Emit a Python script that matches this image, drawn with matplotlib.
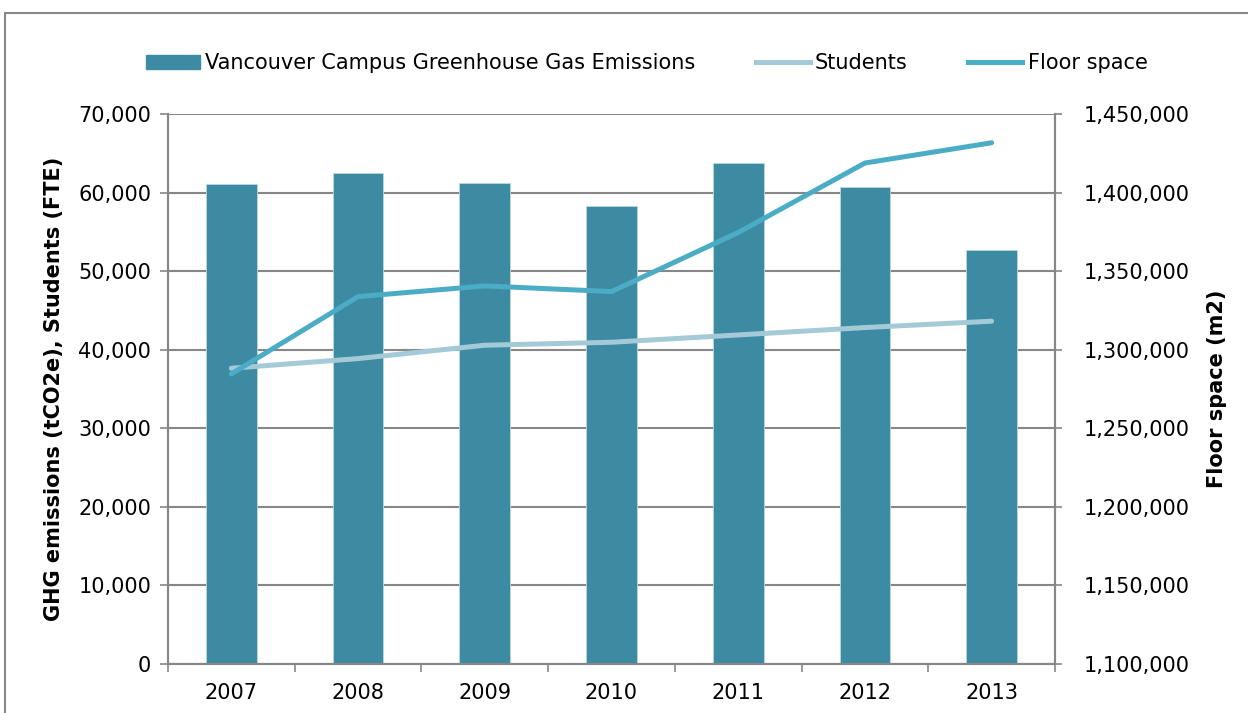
import matplotlib.pyplot as plt
from matplotlib.patches import Rectangle, Patch
from matplotlib.lines import Line2D
from matplotlib.ticker import FuncFormatter, MultipleLocator
import numpy as np

years = ['2007', '2008', '2009', '2010', '2011', '2012', '2013']
ghg = [61030, 62430, 61160, 58320, 63800, 60650, 52750]
students = [37640, 38870, 40570, 40950, 41880, 42820, 43630]
floor_space = [1284600, 1333800, 1340600, 1337000, 1374600, 1418800, 1431700]

bar_col = '#3D8BA3'
stud_col = '#A5CAD7'
floor_col = '#4BACC6'
grid_col = '#878787'

plt.rcParams['font.family'] = ['DejaVu Sans']
fig = plt.figure(figsize=(12.48, 7.13), dpi=100)
ax = fig.add_axes([168 / 1248, 1 - 664 / 713, 887 / 1248, 550 / 713])
ax2 = ax.twinx()

x = np.arange(len(years))
ax.bar(x, ghg, width=0.4, color=bar_col, edgecolor='#B9D9E3', linewidth=0.6, zorder=2)
ax.plot(x, students, color=stud_col, lw=3.6, solid_capstyle='round', zorder=3)
ax2.plot(x, floor_space, color=floor_col, lw=3.6, solid_capstyle='round', zorder=4)

ax.set_xlim(-0.5, len(years) - 0.5)
ax.set_ylim(0, 70000)
ax2.set_ylim(1100000, 1450000)
ax.yaxis.set_major_locator(MultipleLocator(10000))
ax2.yaxis.set_major_locator(MultipleLocator(50000))
fmt = FuncFormatter(lambda v, p: f'{int(v):,}')
ax.yaxis.set_major_formatter(fmt)
ax2.yaxis.set_major_formatter(fmt)

ax.set_xticks(x)
ax.set_xticklabels(years)
ax.set_xticks(np.arange(len(years) + 1) - 0.5, minor=True)
ax.tick_params(axis='x', which='major', length=0, pad=14, labelsize=15)
ax.tick_params(axis='x', which='minor', length=6, color=grid_col, width=1.2)
ax.tick_params(axis='y', length=6, color=grid_col, width=1.2, labelsize=15, pad=6)
ax2.tick_params(axis='y', length=5, color=grid_col, width=1.2, labelsize=15, pad=16)

ax.grid(axis='y', color=grid_col, lw=1.5, zorder=0)
ax.set_axisbelow(True)
for a in (ax, ax2):
    a.spines['top'].set_visible(False)
    for s in ('left', 'right', 'bottom'):
        a.spines[s].set_color(grid_col)
        a.spines[s].set_linewidth(1.5)

ax.set_ylabel('GHG emissions (tCO2e), Students (FTE)', fontsize=15, fontweight='bold', labelpad=10)
ax2.set_ylabel('Floor space (m2)', fontsize=15, fontweight='bold', labelpad=12)

handles = [Patch(color=bar_col), Line2D([], [], color=stud_col, lw=3.6), Line2D([], [], color=floor_col, lw=3.6)]
labels = ['Vancouver Campus Greenhouse Gas Emissions', 'Students', 'Floor space']
fig.legend(handles, labels, loc='center', bbox_to_anchor=(0.518, 0.911), ncol=3, frameon=False,
           fontsize=15, handlelength=2.6, handletextpad=0.25, columnspacing=2.9)

# outer chart border
fig.patches.append(Rectangle((5 / 1248, -0.1), 1.2, 1 - 13 / 713 + 0.1, transform=fig.transFigure,
                             fill=False, edgecolor=grid_col, lw=1.5))

fig.savefig('out.png', dpi=100)
